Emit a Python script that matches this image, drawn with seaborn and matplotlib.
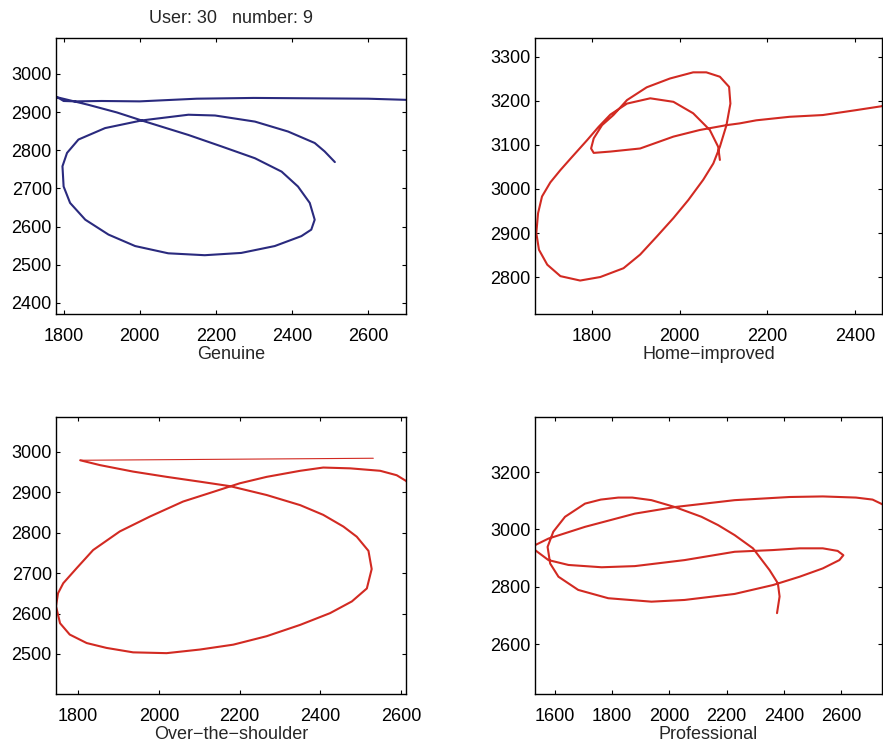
import matplotlib
matplotlib.use("Agg")
import matplotlib.pyplot as plt
import seaborn as sns

# ---------------- data ----------------
title_text = "User: 30   number: 9"
panel_labels = ["Genuine", "Home\u2212improved", "Over\u2212the\u2212shoulder", "Professional"]

genuine_x = [2700, 2600, 2450, 2300, 2150, 2000, 1900, 1830, 1800, 1790, 1782,
             1865, 1940, 2005, 2128, 2215, 2303, 2373, 2416, 2447, 2460, 2451, 2425,
             2355, 2267, 2171, 2075, 1988, 1918, 1857, 1817, 1800, 1797, 1809, 1839,
             1909, 2005, 2128, 2198, 2303, 2390, 2460, 2486, 2513]
genuine_y = [2932, 2935, 2936, 2937, 2935, 2928, 2929, 2928, 2929, 2935, 2939,
             2919, 2899, 2878, 2840, 2810, 2779, 2744, 2705, 2662, 2618, 2592, 2575,
             2549, 2531, 2525, 2530, 2549, 2579, 2618, 2662, 2705, 2758, 2793, 2828,
             2858, 2878, 2893, 2891, 2875, 2849, 2819, 2797, 2769]

home_x = [2475, 2461, 2402, 2327, 2251, 2175, 2137, 2107, 2046, 1986, 1910, 1842,
          1804, 1798, 1804, 1823, 1849, 1880, 1925, 1978, 2031, 2061, 2092, 2113,
          2116, 2107, 2092, 2077, 2054, 2020, 1986, 1948, 1910, 1872, 1819, 1773,
          1728, 1698, 1679, 1673, 1677, 1686, 1705, 1728, 1752, 1789, 1815, 1842,
          1880, 1933, 1986, 2031, 2069, 2088, 2092]
home_y = [3192, 3188, 3179, 3168, 3164, 3156, 3149, 3145, 3134, 3119, 3092, 3085,
          3082, 3092, 3115, 3145, 3168, 3202, 3231, 3251, 3265, 3265, 3255, 3232,
          3194, 3145, 3096, 3058, 3021, 2975, 2934, 2892, 2851, 2820, 2800, 2792,
          2802, 2828, 2862, 2900, 2945, 2983, 3015, 3043, 3070, 3111, 3141, 3169,
          3194, 3206, 3198, 3172, 3134, 3096, 3066]

ots_jump_x = [2531, 1805]
ots_jump_y = [2984, 2979]
ots_x = [1805, 1854, 1936, 2019, 2102, 2176, 2267, 2350, 2407, 2457, 2490, 2519,
         2527, 2515, 2478, 2424, 2350, 2267, 2184, 2102, 2019, 1936, 1870, 1821,
         1779, 1755, 1745, 1750, 1763, 1796, 1837, 1903, 1978, 2060, 2135, 2200,
         2267, 2350, 2407, 2474, 2548, 2589, 2612, 2625]
ots_y = [2979, 2967, 2951, 2938, 2926, 2915, 2893, 2868, 2844, 2815, 2790, 2755,
         2710, 2662, 2630, 2601, 2572, 2544, 2523, 2511, 2502, 2504, 2515, 2527,
         2548, 2576, 2618, 2650, 2675, 2712, 2757, 2803, 2840, 2877, 2901, 2922,
         2938, 2953, 2961, 2959, 2953, 2942, 2928, 2915]

pro_x = [2376, 2385, 2379, 2350, 2292, 2228, 2170, 2112, 2019, 1937, 1870, 1821,
         1760, 1705, 1635, 1594, 1574, 1583, 1612, 1681, 1786, 1937, 2053, 2228,
         2362, 2455, 2536, 2594, 2608, 2588, 2536, 2455, 2362, 2228, 2053, 1879,
         1763, 1647, 1577, 1530, 1522, 1530, 1577, 1705, 1879, 2019, 2228, 2420,
         2536, 2652, 2710, 2760]
pro_y = [2708, 2766, 2812, 2858, 2934, 2980, 3015, 3044, 3078, 3102, 3111, 3111,
         3104, 3090, 3044, 2992, 2939, 2881, 2835, 2789, 2760, 2748, 2754, 2775,
         2806, 2835, 2864, 2893, 2910, 2925, 2934, 2934, 2928, 2922, 2893, 2872,
         2868, 2876, 2893, 2928, 2937, 2945, 2968, 3009, 3055, 3078, 3102, 3113,
         3115, 3111, 3104, 3080]

xticks = [[1800, 2000, 2200, 2400, 2600], [1800, 2000, 2200, 2400],
          [1800, 2000, 2200, 2400, 2600], [1600, 1800, 2000, 2200, 2400, 2600]]
yticks = [[2400, 2500, 2600, 2700, 2800, 2900, 3000],
          [2800, 2900, 3000, 3100, 3200, 3300],
          [2500, 2600, 2700, 2800, 2900, 3000],
          [2600, 2800, 3000, 3200]]
xlims = [(1780, 2700), (1670, 2462), (1745, 2612), (1530, 2743)]
ylims = [(2371, 3094), (2716, 3343), (2401, 3086), (2426, 3392)]

# ---------------- style ----------------
sns.set_theme(style="ticks")
plt.rcParams['font.family'] = ['Liberation Sans', 'DejaVu Sans']
plt.rcParams['axes.unicode_minus'] = True

BLUE = "#2a2a7e"
RED = "#d22a22"

fig = plt.figure(figsize=(8.83, 7.49), dpi=100)
positions = [[56/883, 1-314/749, 350/883, 276/749],
             [535/883, 1-314/749, 347/883, 276/749],
             [56/883, 1-694/749, 350/883, 277/749],
             [535/883, 1-694/749, 347/883, 277/749]]
axes = [fig.add_axes(p) for p in positions]

LW = 1.5
kw = dict(sort=False, estimator=None, solid_joinstyle="round", solid_capstyle="round")
sns.lineplot(x=genuine_x, y=genuine_y, color=BLUE, lw=LW, ax=axes[0], **kw)
sns.lineplot(x=home_x, y=home_y, color=RED, lw=LW, ax=axes[1], **kw)
sns.lineplot(x=ots_jump_x, y=ots_jump_y, color=RED, lw=0.8, ax=axes[2], **kw)
sns.lineplot(x=ots_x, y=ots_y, color=RED, lw=LW, ax=axes[2], **kw)
sns.lineplot(x=pro_x, y=pro_y, color=RED, lw=LW, ax=axes[3], **kw)

FS = 13
for i, ax in enumerate(axes):
    ax.set_xlim(*xlims[i])
    ax.set_ylim(*ylims[i])
    ax.set_xticks(xticks[i])
    ax.set_yticks(yticks[i])
    for s in ax.spines.values():
        s.set_visible(True)
        s.set_color("black")
        s.set_linewidth(1.0)
    ax.tick_params(direction="in", length=3, width=0.8, top=True, right=True,
                   labelsize=FS, colors="black")
    ax.tick_params(axis="x", pad=10)
    ax.tick_params(axis="y", pad=3)
    ax.set_xlabel(panel_labels[i], fontsize=FS, labelpad=1)
    ax.set_ylabel("")
    ax.set_facecolor("white")

axes[0].set_title(title_text, fontsize=FS, pad=11)

fig.savefig("out.png", dpi=100, facecolor="white")
